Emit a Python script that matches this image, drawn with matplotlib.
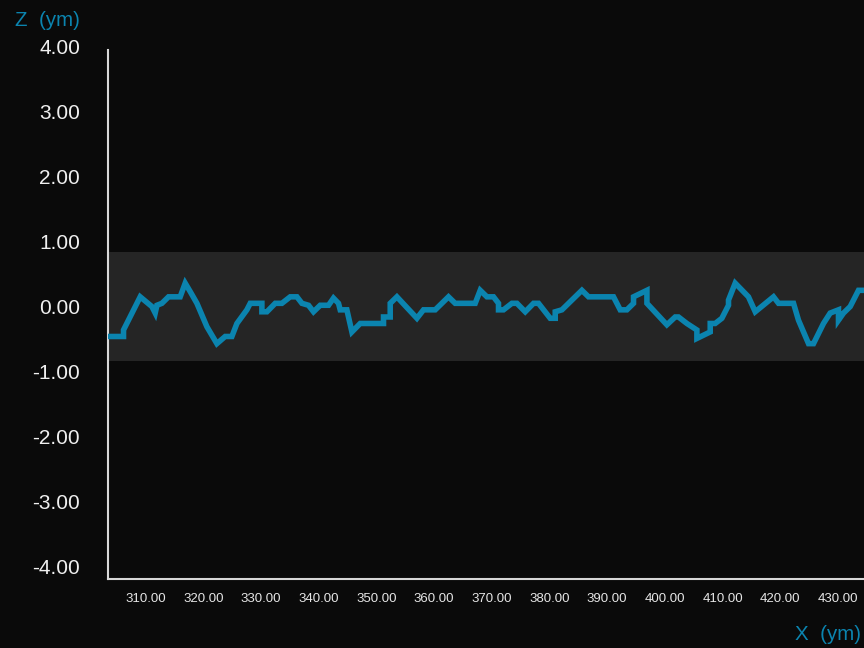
import matplotlib
matplotlib.use("Agg")
import matplotlib.pyplot as plt

x_vals = [303.88, 306.19, 306.19, 309.08, 311.11, 311.68, 311.98, 312.84, 313.99, 316.01,
          316.88, 317.75, 318.91, 320.64, 322.37, 323.81, 324.97, 325.84, 327.57, 328.15,
          330.17, 330.17, 331.04, 332.48, 333.64, 335.08, 336.24, 337.11, 338.25, 339.12,
          340.28, 341.72, 342.58, 343.45, 343.74, 344.90, 345.77, 347.21, 351.25, 351.25,
          352.41, 352.41, 353.57, 357.04, 358.18, 360.21, 362.51, 363.67, 367.14, 368.01,
          369.17, 370.31, 371.18, 371.18, 372.05, 373.50, 374.37, 375.81, 377.25, 378.11,
          380.14, 381.01, 381.01, 382.17, 385.63, 386.78, 391.11, 392.27, 393.43, 394.58,
          394.58, 396.90, 396.90, 400.36, 401.80, 402.37, 403.83, 405.56, 405.56, 407.87,
          407.87, 408.73, 409.89, 411.04, 411.04, 412.20, 414.50, 415.67, 418.84, 419.71,
          422.31, 423.17, 424.91, 425.77, 427.50, 428.66, 430.10, 430.10, 430.97, 432.13,
          433.57, 434.56]
z_vals = [-0.46, -0.46, -0.36, 0.15, 0.00, -0.10, 0.02, 0.05, 0.15, 0.15,
          0.36, 0.23, 0.05, -0.31, -0.57, -0.46, -0.46, -0.26, -0.05, 0.05,
          0.05, -0.08, -0.08, 0.05, 0.05, 0.15, 0.15, 0.05, 0.02, -0.08,
          0.02, 0.02, 0.13, 0.05, -0.05, -0.05, -0.39, -0.26, -0.26, -0.16,
          -0.16, 0.05, 0.15, -0.18, -0.05, -0.05, 0.15, 0.05, 0.05, 0.25,
          0.15, 0.15, 0.05, -0.05, -0.05, 0.05, 0.05, -0.08, 0.05, 0.05,
          -0.18, -0.18, -0.08, -0.05, 0.25, 0.15, 0.15, -0.05, -0.05, 0.05,
          0.15, 0.25, 0.05, -0.28, -0.16, -0.16, -0.26, -0.36, -0.49, -0.39,
          -0.26, -0.26, -0.18, 0.02, 0.10, 0.36, 0.15, -0.08, 0.15, 0.05,
          0.05, -0.21, -0.57, -0.57, -0.26, -0.10, -0.05, -0.21, -0.10, 0.00,
          0.25, 0.25]

band_low, band_high = -0.84, 0.84
x_ticks = [310, 320, 330, 340, 350, 360, 370, 380, 390, 400, 410, 420, 430]
y_ticks = [-4, -3, -2, -1, 0, 1, 2, 3, 4]

bg = "#0a0a0a"
blue = "#0b84af"
fam = ["Liberation Sans", "DejaVu Sans"]

fig = plt.figure(figsize=(8.64, 6.48), dpi=100, facecolor=bg)
x0, x1 = 303.5, 440.0
y0, y1 = -4.19, 4.0
left = 108 / 864
bottom = (648 - 579) / 648
height = (579 - 46.5) / 648
px_per_unit = 5.77
width = (x1 - x0) * px_per_unit / 864
ax = fig.add_axes([left, bottom, width, height], facecolor=bg)
ax.set_xlim(x0, x1)
ax.set_ylim(y0, y1)

ax.axhspan(band_low, band_high, color="#252525", zorder=1, lw=0)
ax.plot(x_vals, z_vals, color=blue, lw=4.0, solid_joinstyle="miter", zorder=3)

for s in ["top", "right"]:
    ax.spines[s].set_visible(False)
for s in ["left", "bottom"]:
    ax.spines[s].set_color("#d8d8d8")
    ax.spines[s].set_linewidth(1.5)
ax.spines["left"].set_bounds(-4.19, 3.95)

ax.set_xticks(x_ticks)
ax.set_xticklabels([f"{v:.2f}" for v in x_ticks], family=fam, fontsize=9.5, color="#e6e6e6")
ax.set_yticks(y_ticks)
ax.set_yticklabels([f"{v:.2f}" for v in y_ticks], family=fam, fontsize=15, color="#f0f0f0")
ax.tick_params(axis="both", length=0)
ax.tick_params(axis="x", pad=10)
ax.tick_params(axis="y", pad=20)

fig.text(15 / 864, 1 - 20 / 648, "Z  (ym)", family=fam, fontsize=14.8, color=blue,
         ha="left", va="center")
fig.text(861 / 864, 1 - 635 / 648, "X  (ym)", family=fam, fontsize=14.8, color=blue,
         ha="right", va="center")

fig.savefig("out.png", dpi=100, facecolor=bg)
